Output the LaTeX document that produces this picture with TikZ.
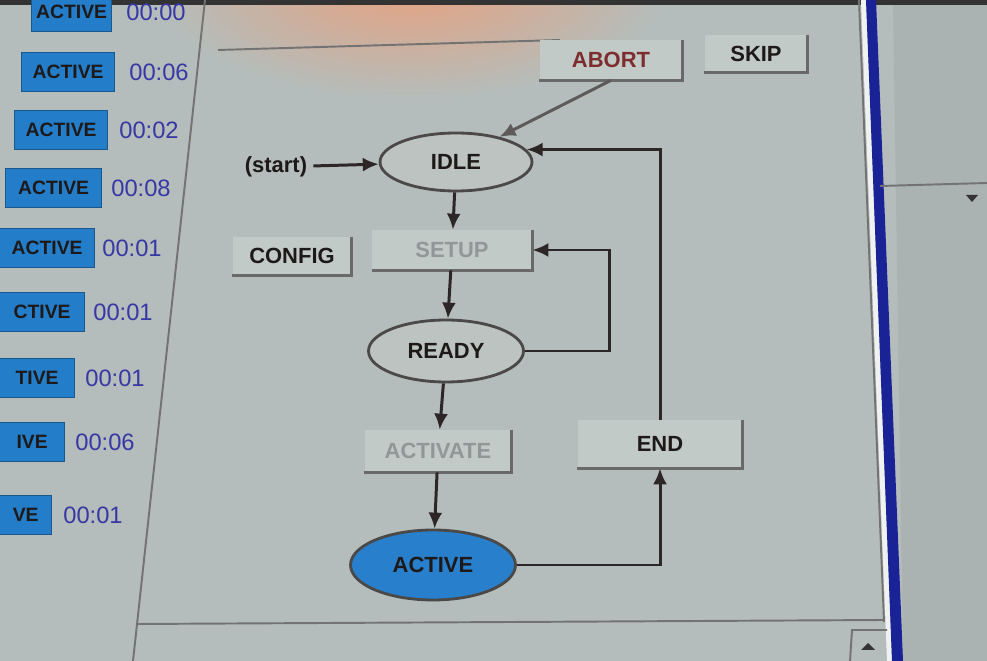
\documentclass[tikz,border=0pt]{standalone}
\usepackage{fontspec}
\setmainfont{Liberation Sans}
\usetikzlibrary{arrows.meta, positioning, shapes.geometric}

\definecolor{screen}{RGB}{180,189,187}
\definecolor{sidepanel}{RGB}{170,178,178}
\definecolor{statefill}{RGB}{188,195,193}
\definecolor{stateline}{RGB}{75,72,72}
\definecolor{btnfill}{RGB}{194,202,200}
\definecolor{rimgrey}{RGB}{105,105,105}
\definecolor{flowgrey}{RGB}{45,38,38}
\definecolor{abortgrey}{RGB}{95,90,90}
\definecolor{tabblue}{RGB}{35,125,200}
\definecolor{activeblue}{RGB}{40,128,205}
\definecolor{barblue}{RGB}{25,35,150}
\definecolor{clockblue}{RGB}{55,55,165}
\definecolor{dimtext}{RGB}{145,150,150}
\definecolor{abortred}{RGB}{125,45,45}
\definecolor{inktext}{RGB}{30,25,25}
\definecolor{glow}{RGB}{232,160,125}

\begin{document}
\begin{tikzpicture}[
  x=0.02cm, y=-0.02cm,
  every node/.style={font=\fontsize{12.5}{14}\selectfont\bfseries, text=inktext},
  state/.style={ellipse, draw=stateline, line width=1.6pt, fill=statefill, inner sep=0pt},
  btn/.style={rectangle, fill=btnfill, inner sep=0pt},
  rim/.style={draw=rimgrey, line width=1.6pt},
  tab/.style={rectangle, fill=tabblue, draw=tabblue!70!black, minimum height=0.78cm,
              inner sep=0pt, font=\fontsize{11}{13}\selectfont\bfseries},
  clock/.style={font=\fontsize{13.5}{15}\selectfont, text=clockblue},
  frame/.style={draw=black!55, line width=1.1pt},
  flow/.style={draw=flowgrey, line width=1.7pt, -{Latex[length=3.2mm, width=2.8mm]}}
]

% Screen
\useasboundingbox (0,0) rectangle (987,661);
\clip (0,0) rectangle (987,661);
\fill[screen] (0,0) rectangle (987,661);
\fill[sidepanel] (893,0) -- (987,0) -- (987,661) -- (903,661) -- cycle;
\shade[inner color=glow, outer color=screen] (410,-20) ellipse (5.2cm and 2.4cm);
\fill[black!80] (0,0) rectangle (987,5);

% Panel borders
\draw[frame] (205,0) -- (133,661);
\draw[frame] (218,50) -- (560,40);
\draw[frame] (859,0) -- (884,622);
\draw[frame] (138,624) -- (884,620);
\fill[white!80!screen] (861,0) -- (866,0) -- (892,661) -- (887,661) -- cycle;
\fill[barblue] (866,0) -- (876,0) -- (903,661) -- (892,661) -- cycle;
\draw[frame] (880,186) -- (987,183);
\fill[black!80] (966,195) -- (978,195) -- (972,202) -- cycle;
\draw[frame] (850,661) -- (852,630) -- (887,630);
\fill[black!80] (861,650) -- (875,650) -- (868,643) -- cycle;

% Task list (tabs run off the left edge)
\foreach \r/\w/\y/\t/\tm/\lbl [count=\i] in {112/80/12/156/00:00/ACTIVE,
    115/93/72/159/00:06/ACTIVE, 108/93/130/149/00:02/ACTIVE, 102/96/188/141/00:08/ACTIVE,
    95/95/248/132/00:01/ACTIVE, 85/85/312/123/00:01/CTIVE, 75/75/378/115/00:01/TIVE,
    65/65/442/105/00:06/IVE, 52/52/515/93/00:01/VE} {
  \node[tab, anchor=east, minimum width=\w*0.02cm] (tab\i) at (\r,\y) {\lbl};
  \node[clock] (clock\i) at (\t,\y) {\tm};
}

% Nodes
\node (start) at (276,167) {(start)};
\node[state, minimum width=3.04cm, minimum height=1.16cm] (idle) at (456,162) {IDLE};
\node[btn, minimum width=2.86cm, minimum height=0.8cm, text=abortred] (abort) at (611,60) {ABORT};
\node[btn, minimum width=2.06cm, minimum height=0.74cm] (skip) at (756,54) {SKIP};
\node[btn, minimum width=2.38cm, minimum height=0.76cm] (config) at (292,256) {CONFIG};
\node[btn, minimum width=3.2cm, minimum height=0.8cm, text=dimtext] (setup) at (452,250) {SETUP};
\node[state, minimum width=3.1cm, minimum height=1.24cm] (ready) at (446,351) {READY};
\node[btn, minimum width=2.94cm, minimum height=0.84cm, text=dimtext] (activate) at (438,451) {ACTIVATE};
\node[btn, minimum width=3.3cm, minimum height=0.96cm] (stop) at (660,444) {END};
\node[state, minimum width=3.3cm, minimum height=1.4cm, fill=activeblue] (active) at (433,565) {ACTIVE};

% Button rims
\foreach \b in {abort, skip, config, setup, activate, stop}
  \draw[rim] (\b.north east) -- (\b.south east) -- (\b.south west);

% Transitions
\draw[flow] (start) -- (idle);
\draw[flow, draw=abortgrey] (abort.south) -- (idle.30);
\draw[flow] (idle) -- (setup);
\draw[flow] (setup) -- (ready);
\draw[flow] (ready.east) -- ++(85,0) |- (setup.east);
\draw[flow] (ready) -- (activate);
\draw[flow] (activate) -- (active);
\draw[flow] (active.east) -| (stop.south);
\draw[flow] (stop.north) |- (idle.10);

\end{tikzpicture}
\end{document}
